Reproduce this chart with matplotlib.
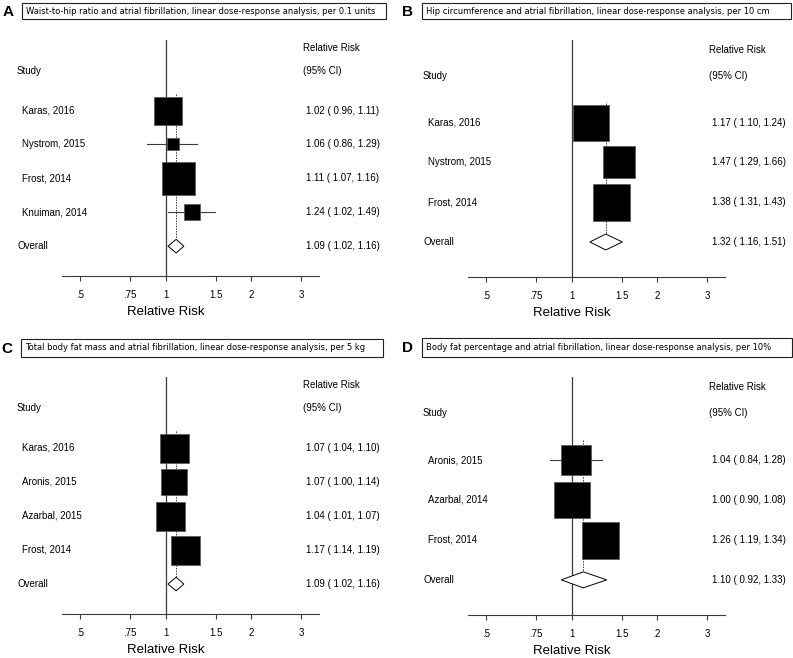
import numpy as np
import matplotlib.pyplot as plt
from matplotlib.patches import Rectangle, Polygon
from matplotlib.transforms import blended_transform_factory

# ---- data ----
titles = [
    "Waist-to-hip ratio and atrial fibrillation, linear dose-response analysis, per 0.1 units",
    "Hip circumference and atrial fibrillation, linear dose-response analysis, per 10 cm",
    "Total body fat mass and atrial fibrillation, linear dose-response analysis, per 5 kg",
    "Body fat percentage and atrial fibrillation, linear dose-response analysis, per 10%",
]
panel_letters = ["A", "B", "C", "D"]

a_studies = ["Karas, 2016", "Nystrom, 2015", "Frost, 2014", "Knuiman, 2014"]
a_rr = [1.02, 1.06, 1.11, 1.24]
a_lo = [0.96, 0.86, 1.07, 1.02]
a_hi = [1.11, 1.29, 1.16, 1.49]
a_weight = [33.0, 7.6, 49.2, 10.2]
a_overall = [1.09, 1.02, 1.16]

b_studies = ["Karas, 2016", "Nystrom, 2015", "Frost, 2014"]
b_rr = [1.17, 1.47, 1.38]
b_lo = [1.10, 1.29, 1.31]
b_hi = [1.24, 1.66, 1.43]
b_weight = [33.9, 28.3, 37.8]
b_overall = [1.32, 1.16, 1.51]

c_studies = ["Karas, 2016", "Aronis, 2015", "Azarbal, 2015", "Frost, 2014"]
c_rr = [1.07, 1.07, 1.04, 1.17]
c_lo = [1.04, 1.00, 1.01, 1.14]
c_hi = [1.10, 1.14, 1.07, 1.19]
c_weight = [26.3, 21.1, 26.3, 26.3]
c_overall = [1.09, 1.02, 1.16]

d_studies = ["Aronis, 2015", "Azarbal, 2014", "Frost, 2014"]
d_rr = [1.04, 1.00, 1.26]
d_lo = [0.84, 0.90, 1.19]
d_hi = [1.28, 1.08, 1.34]
d_weight = [25.2, 36.4, 38.4]
d_overall = [1.10, 0.92, 1.33]

tick_vals = [0.5, 0.75, 1, 1.5, 2, 3]
tick_labels = [".5", ".75", "1", "1.5", "2", "3"]

# ---- layout (pixels of a 793x658 figure) ----
W, H = 793, 658
XMIN, XMAX = 0.432, 3.47
# left, top, width, height of plot region; biggest box side in px
axes_px = [(62, 40, 257, 236), (468, 40, 257, 237), (62, 377, 257, 237), (468, 377, 257, 238)]
box_max_px = [33, 37, 29, 37]
title_box_px = [(22, 3, 364, 16), (422, 3, 369, 16), (21, 339, 362, 18), (422, 338, 370, 19)]
letter_px = [(8, 12), (407, 12), (7, 349), (407, 348)]

plt.rcParams['font.family'] = ['Liberation Sans', 'DejaVu Sans']
fig = plt.figure(figsize=(W / 100, H / 100), dpi=100)

GREY = "#3a3a3a"


def draw_panel(i, studies, rr, lo, hi, weight, overall):
    left, top, w, h = axes_px[i]
    ax = fig.add_axes([left / W, 1 - (top + h) / H, w / W, h / H])
    ax.set_xscale("log")
    ax.set_xlim(XMIN, XMAX)
    n = len(studies)
    first = 1.17
    ax.set_ylim(n + 2.05, -0.91)

    for s in ["top", "left", "right"]:
        ax.spines[s].set_visible(False)
    ax.spines["bottom"].set_color(GREY)
    ax.spines["bottom"].set_linewidth(0.8)
    ax.set_yticks([])
    ax.set_xticks(tick_vals)
    ax.set_xticklabels(tick_labels, fontsize=7)
    ax.xaxis.set_minor_locator(plt.NullLocator())
    ax.tick_params(axis="x", length=3.6, width=0.8, color=GREY, pad=6.5)

    ax.axvline(1, color=GREY, lw=0.9, zorder=1)

    ys = [first + k for k in range(n)]
    y_over = first + n
    ax.plot([overall[0], overall[0]], [first - 0.5, y_over], color=GREY,
            lw=0.7, ls=(0, (1.5, 1.2)), zorder=1.5)

    wmax = max(weight)
    for k in range(n):
        ax.plot([lo[k], hi[k]], [ys[k], ys[k]], color=GREY, lw=0.8, zorder=2)
        side = box_max_px[i] * np.sqrt(weight[k] / wmax) * 0.72
        ax.plot(rr[k], ys[k], marker="s", markersize=side, color="black",
                markeredgecolor="#555555", markeredgewidth=0.5, zorder=3)

    dh = 0.2
    diamond = Polygon([[overall[1], y_over], [overall[0], y_over - dh],
                       [overall[2], y_over], [overall[0], y_over + dh]],
                      closed=True, facecolor="white", edgecolor="black", lw=0.7, zorder=4)
    ax.add_patch(diamond)

    tr = blended_transform_factory(ax.transAxes, ax.transData)
    x_study = -45 / w
    x_name = -40 / w
    x_head = 241 / w
    x_val = 244 / w
    fs = 7
    ax.text(x_head, -0.67, "Relative Risk", transform=tr, fontsize=fs, va="center")
    ax.text(x_head, 0, "(95% CI)", transform=tr, fontsize=fs, va="center")
    ax.text(x_study, 0, "Study", transform=tr, fontsize=fs, va="center")
    for k in range(n):
        ax.text(x_name, ys[k], studies[k], transform=tr, fontsize=fs, va="center")
        ax.text(x_val, ys[k], f"{rr[k]:.2f} ( {lo[k]:.2f}, {hi[k]:.2f})",
                transform=tr, fontsize=fs, va="center")
    ax.text(x_study, y_over, "Overall", transform=tr, fontsize=fs, va="center")
    ax.text(x_val, y_over, f"{overall[0]:.2f} ( {overall[1]:.2f}, {overall[2]:.2f})",
            transform=tr, fontsize=fs, va="center")

    x1 = (np.log(1) - np.log(XMIN)) / (np.log(XMAX) - np.log(XMIN))
    ax.text(x1, -36 / h, "Relative Risk", transform=ax.transAxes, fontsize=9.5,
            ha="center", va="center")

    # title box and panel letter
    bx, by, bw, bh = title_box_px[i]
    fig.add_artist(Rectangle((bx / W, 1 - (by + bh) / H), bw / W, bh / H,
                             transform=fig.transFigure, facecolor="white",
                             edgecolor="#222222", lw=0.8))
    fig.text((bx + 4) / W, 1 - (by + bh / 2) / H, titles[i], fontsize=6.0,
             family="DejaVu Sans", va="center", ha="left")
    lx, ly = letter_px[i]
    fig.text(lx / W, 1 - ly / H, panel_letters[i], fontsize=11, fontweight="bold",
             ha="center", va="center")


draw_panel(0, a_studies, a_rr, a_lo, a_hi, a_weight, a_overall)
draw_panel(1, b_studies, b_rr, b_lo, b_hi, b_weight, b_overall)
draw_panel(2, c_studies, c_rr, c_lo, c_hi, c_weight, c_overall)
draw_panel(3, d_studies, d_rr, d_lo, d_hi, d_weight, d_overall)

fig.savefig("out.png", dpi=100)
